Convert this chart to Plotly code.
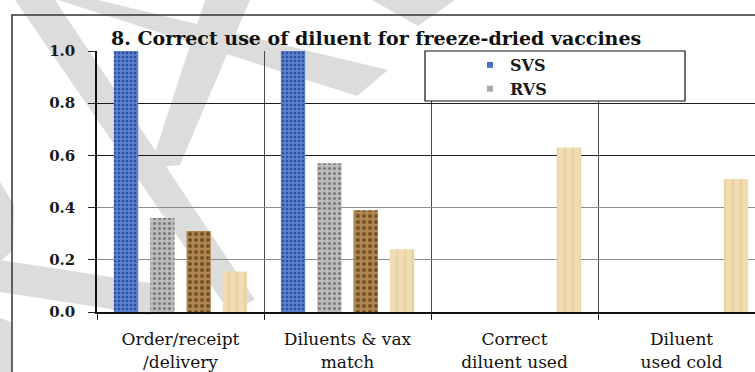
import plotly.graph_objects as go

# ---- data -------------------------------------------------------------
categories = [
    "Order/receipt<br>/delivery",
    "Diluents & vax<br>match",
    "Correct<br>diluent used",
    "Diluent<br>used cold",
]
series_names = ["SVS", "RVS", "DVS", "HF"]
svs = [1.0, 1.0, 0.0, 0.0]
rvs = [0.36, 0.57, 0.0, 0.0]
dvs = [0.31, 0.39, 0.0, 0.0]
hf = [0.155, 0.24, 0.63, 0.51]
y_ticks = [0.0, 0.2, 0.4, 0.6, 0.8, 1.0]
dark_grid = [0.6, 0.8, 1.0]

# ---- geometry helpers (figure pixels -> paper fraction) ---------------
W, H = 755, 372
ML, MR, MT, MB = 97, 0, 51, 60
PW, PH = W - ML - MR, H - MT - MB


def px(x):
    return (x - ML) / PW


def py(y):
    return (H - MB - y) / PH


def poly(points):
    return "M " + " L ".join(f"{px(x):.4f},{py(y):.4f}" for x, y in points) + " Z"


# ---- bar styling --------------------------------------------------------
styles = {
    "SVS": dict(bg="#5a80d0", fg="#2c4f9c", shape=".", size=4, solidity=0.3),
    "RVS": dict(bg="#bcbcbc", fg="#7a7a7a", shape=".", size=5, solidity=0.3),
    "DVS": dict(bg="#b08650", fg="#735026", shape=".", size=6, solidity=0.35),
    "HF": dict(bg="#f0dcb2", fg="#e4c993", shape="|", size=8, solidity=0.15),
}

fig = go.Figure()
for name, vals in zip(series_names, [svs, rvs, dvs, hf]):
    s = styles[name]
    fig.add_trace(go.Bar(
        x=categories, y=vals, name=name, showlegend=False,
        marker=dict(
            color=s["bg"], line=dict(width=0),
            pattern=dict(shape=s["shape"], bgcolor=s["bg"], fgcolor=s["fg"],
                         size=s["size"], solidity=s["solidity"], fillmode="replace"),
        ),
    ))

# legend entries with small square keys
legend_colors = {"SVS": "#4a6fc2", "RVS": "#a9a9a9"}
for name in ["SVS", "RVS"]:
    fig.add_trace(go.Scatter(
        x=[None], y=[None], mode="markers", name=name, yaxis="y2",
        marker=dict(symbol="square", size=6, color=legend_colors[name]),
    ))

# ---- decorative watermark strokes and frame ----------------------------
wm = "#dcdcdc"
strokes = [
    [(15, 0), (55, 0), (255, 300), (228, 310)],
    [(150, 168), (205, 0), (250, 0), (180, 165)],
    [(58, 0), (98, 0), (388, 70), (357, 96)],
    [(372, 0), (455, 0), (418, 26)],
    [(0, 260), (150, 283), (168, 300), (150, 315), (0, 292)],
    [(0, 182), (14, 205), (13, 250), (0, 262)],
    [(0, 318), (11, 322), (11, 372), (0, 372)],
]
shapes = [
    dict(type="path", path=poly(p), xref="paper", yref="paper",
         fillcolor=wm, line=dict(width=0), layer="below")
    for p in strokes
]
# outer chart frame
shapes.append(dict(type="rect", xref="paper", yref="paper",
                   x0=px(12), x1=px(770), y0=py(390), y1=py(15),
                   line=dict(color="#333333", width=1.5), fillcolor="rgba(0,0,0,0)",
                   layer="above"))
# legend box
shapes.append(dict(type="rect", xref="paper", yref="paper",
                   x0=px(425), x1=px(685), y0=py(101), y1=py(51),
                   line=dict(color="#111111", width=1.2), fillcolor="white",
                   layer="above"))

serif = "DejaVu Serif"

fig.update_layout(
    width=W, height=H, autosize=False,
    margin=dict(l=ML, r=MR, t=MT, b=MB, pad=0),
    paper_bgcolor="white", plot_bgcolor="rgba(0,0,0,0)",
    barmode="group", bargap=0.13, bargroupgap=0.33,
    shapes=shapes,
    showlegend=True,
    legend=dict(
        x=px(470), y=py(48), xanchor="left", yanchor="top",
        bgcolor="rgba(0,0,0,0)", borderwidth=0, itemwidth=30,
        font=dict(family=serif, size=16, color="#1a1a1a", weight="bold"),
        tracegroupgap=0,
    ),
    annotations=[dict(
        text="<b>8. Correct use of diluent for freeze-dried vaccines</b>",
        xref="paper", yref="paper", x=px(376), y=py(38),
        xanchor="center", yanchor="middle", showarrow=False,
        font=dict(family=serif, size=19, color="#111111"),
    )],
    xaxis=dict(
        type="category", range=[-0.5, 3.44],
        showline=True, linecolor="#111111", linewidth=2,
        ticks="outside", tickson="boundaries", ticklen=6, tickcolor="#222222",
        showgrid=True, gridcolor="#4a4a4a", gridwidth=1,
        tickfont=dict(family=serif, size=17, color="#111111"),
        ticklabelstandoff=11,
    ),
    yaxis=dict(
        range=[0, 1], tickvals=y_ticks, tickformat=".1f",
        showline=True, linecolor="#111111", linewidth=1.5,
        ticks="outside", ticklen=7, tickcolor="#222222",
        showgrid=True, gridcolor="#8c8c8c", gridwidth=1, zeroline=False,
        tickfont=dict(family=serif, size=15, color="#1a1a1a", weight="bold"),
        ticklabelstandoff=10,
    ),
    yaxis2=dict(
        overlaying="y", side="left", range=[0, 1], tickvals=dark_grid,
        showticklabels=False, ticks="", showline=False, zeroline=False,
        showgrid=True, gridcolor="#1e1e1e", gridwidth=1.2,
    ),
)

fig.write_html("out.html")
